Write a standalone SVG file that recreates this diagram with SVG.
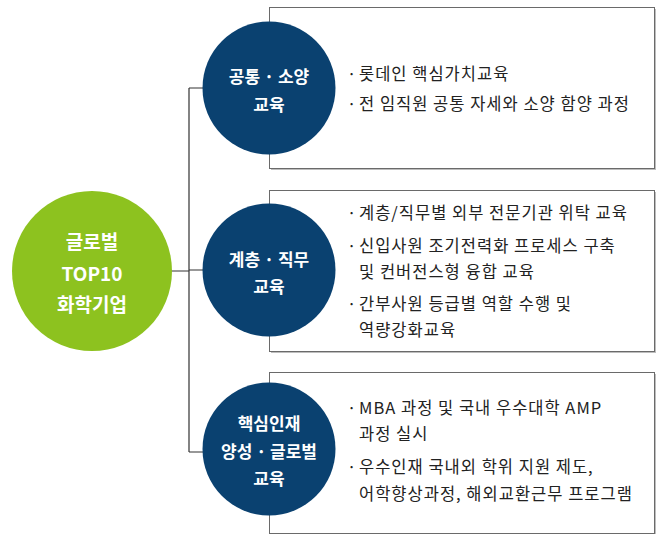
<svg xmlns="http://www.w3.org/2000/svg" width="663" height="534" viewBox="0 0 663 534">
<style>
.box{fill:#fff;stroke:#6a6a6a;stroke-width:1}
.shadow{fill:#bdbdbd}
.navy{fill:#0a4170}
.green{fill:#8dc21f}
.conn{fill:none;stroke:#333;stroke-width:1.2}
.ct{font-family:"Noto Sans CJK KR","Noto Sans",sans-serif;font-weight:bold;fill:#fff;text-anchor:middle;dominant-baseline:central}
.c1{font-size:17px}
.cg{font-size:19px}
.bt{font-family:"Noto Sans CJK KR","Noto Sans",sans-serif;font-size:16.5px;letter-spacing:1px;fill:#222;dominant-baseline:central}
</style>
<g id="connectors">
<path class="conn" d="M171,271 H189 M189,88 V452 M189,88 H215 M189,270 H215 M189,452 H215"/>
</g>
<g id="box1">
<rect class="shadow" x="271" y="9" width="385" height="161"/>
<rect class="box" x="269.5" y="7.5" width="385" height="161"/>
<text class="bt"><tspan x="347" y="73">·</tspan><tspan x="359" y="73">롯데인 핵심가치교육</tspan></text>
<text class="bt"><tspan x="347" y="103">·</tspan><tspan x="359" y="103">전 임직원 공통 자세와 소양 함양 과정</tspan></text>
</g>
<g id="box2">
<rect class="shadow" x="271" y="192" width="385" height="161"/>
<rect class="box" x="269.5" y="190.5" width="385" height="161"/>
<text class="bt"><tspan x="347" y="212">·</tspan><tspan x="359" y="212">계층/직무별 외부 전문기관 위탁 교육</tspan></text>
<text class="bt"><tspan x="347" y="245">·</tspan><tspan x="359" y="245">신입사원 조기전력화 프로세스 구축</tspan></text>
<text class="bt" x="359" y="271">및 컨버전스형 융합 교육</text>
<text class="bt"><tspan x="347" y="303">·</tspan><tspan x="359" y="303">간부사원 등급별 역할 수행 및</tspan></text>
<text class="bt" x="359" y="329">역량강화교육</text>
</g>
<g id="box3">
<rect class="shadow" x="271" y="374" width="385" height="161"/>
<rect class="box" x="269.5" y="372.5" width="385" height="161"/>
<text class="bt"><tspan x="347" y="407">·</tspan><tspan x="359" y="407">MBA 과정 및 국내 우수대학 AMP</tspan></text>
<text class="bt" x="359" y="433">과정 실시</text>
<text class="bt"><tspan x="347" y="466">·</tspan><tspan x="359" y="466">우수인재 국내외 학위 지원 제도,</tspan></text>
<text class="bt" x="359" y="493">어학향상과정, 해외교환근무 프로그램</text>
</g>
<g id="root">
<circle class="green" cx="92" cy="271" r="80"/>
<text class="ct cg" x="92" y="240">글로벌</text>
<text class="ct cg" x="92" y="272">TOP10</text>
<text class="ct cg" x="92" y="303">화학기업</text>
</g>
<g id="node1">
<circle class="navy" cx="269" cy="88" r="66.5"/>
<text class="ct c1" x="269" y="75">공통 · 소양</text>
<text class="ct c1" x="269" y="103">교육</text>
</g>
<g id="node2">
<circle class="navy" cx="269" cy="270" r="66.5"/>
<text class="ct c1" x="269" y="258">계층 · 직무</text>
<text class="ct c1" x="269" y="285">교육</text>
</g>
<g id="node3">
<circle class="navy" cx="269" cy="449" r="66.5"/>
<text class="ct c1" x="269" y="422">핵심인재</text>
<text class="ct c1" x="269" y="450">양성 · 글로벌</text>
<text class="ct c1" x="269" y="477">교육</text>
</g>
</svg>
